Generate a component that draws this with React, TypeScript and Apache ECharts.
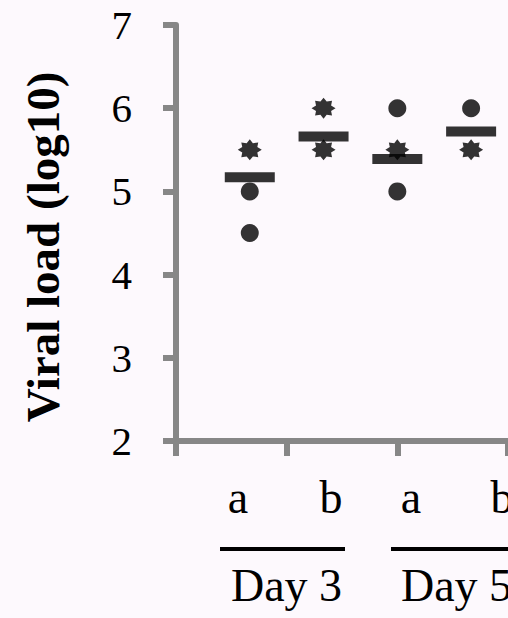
import React, { useEffect, useRef } from "react";
import * as echarts from "echarts";

const groupPositions = [1, 2, 3, 4];
const meanValues = [5.17, 5.66, 5.39, 5.72];
const starPoints = [
  [1, 5.5],
  [2, 6.0],
  [2, 5.5],
  [3, 5.5],
  [4, 5.5],
];
const circlePoints = [
  [1, 5.0],
  [1, 4.5],
  [3, 6.0],
  [3, 5.0],
  [4, 6.0],
];
const subLabels = ["a", "b", "a", "b"];
const dayLabels = ["Day 3", "Day 5"];
const yAxisTitle = "Viral load (log10)";
const yMin = 2;
const yMax = 7;

const SERIF = '"Liberation Serif", "Times New Roman", serif';

function starPath(): string {
  const n = 8;
  const outer = 10;
  const inner = 6.8;
  let d = "";
  for (let i = 0; i < n * 2; i++) {
    const r = i % 2 === 0 ? outer : inner;
    const a = (Math.PI * i) / n - Math.PI / 2;
    const x = (r * Math.cos(a)).toFixed(2);
    const y = (r * Math.sin(a)).toFixed(2);
    d += (i === 0 ? "M" : "L") + x + " " + y + " ";
  }
  return "path://" + d + "Z";
}

export default function App() {
  const ref = useRef<HTMLDivElement>(null);
  useEffect(() => {
    document.body.style.margin = "0";
    if (!ref.current) return;
    const chart = echarts.init(ref.current, null, { renderer: "svg" });
    const subX = [238, 331, 411, 502];
    const dayX = [286.5, 456.5];
    const lineSegs = [
      [220, 345],
      [391, 530],
    ];
    chart.setOption({
      animation: false,
      backgroundColor: "#fdf9fd",
      grid: { left: 176, top: 25, width: 332, height: 416, containLabel: false },
      xAxis: {
        type: "value",
        min: 0,
        max: 4.5,
        interval: 1.5,
        axisLine: { show: true, lineStyle: { color: "#878787", width: 6 } },
        axisTick: { show: true, length: 15, lineStyle: { color: "#878787", width: 6 } },
        axisLabel: { show: false },
        splitLine: { show: false },
      },
      yAxis: {
        type: "value",
        min: yMin,
        max: yMax,
        interval: 1,
        axisLine: { show: true, lineStyle: { color: "#878787", width: 6 } },
        axisTick: { show: true, length: 13, lineStyle: { color: "#878787", width: 6 } },
        axisLabel: {
          show: true,
          color: "#000",
          fontFamily: SERIF,
          fontSize: 41,
          margin: 44,
        },
        splitLine: { show: false },
      },
      series: [
        {
          type: "scatter",
          name: "circles",
          data: circlePoints,
          symbol: "circle",
          symbolSize: 18,
          itemStyle: { color: "#000" },
          z: 2,
        },
        {
          type: "scatter",
          name: "stars",
          data: starPoints,
          symbol: starPath(),
          symbolSize: [24, 21],
          itemStyle: { color: "#000" },
          z: 3,
        },
        {
          type: "scatter",
          name: "mean",
          data: groupPositions.map((x, i) => [x, meanValues[i]]),
          symbol: "rect",
          symbolSize: [50, 10],
          itemStyle: { color: "#000" },
          z: 4,
        },
      ],
      graphic: [
        {
          type: "text",
          x: 42.5,
          y: 247,
          rotation: Math.PI / 2,
          style: {
            text: yAxisTitle,
            font: `bold 47px ${SERIF}`,
            fill: "#000",
            align: "center",
            verticalAlign: "middle",
          },
        },
        ...subLabels.map((t, i) => ({
          type: "text",
          x: subX[i],
          y: 520,
          style: {
            text: t,
            font: `46px ${SERIF}`,
            fill: "#000",
            align: "center",
            verticalAlign: "bottom",
          },
        })),
        ...lineSegs.map((s) => ({
          type: "line",
          shape: { x1: s[0], y1: 549, x2: s[1], y2: 549 },
          style: { stroke: "#000", lineWidth: 4 },
        })),
        ...dayLabels.map((t, i) => ({
          type: "text",
          x: dayX[i],
          y: 608,
          style: {
            text: t,
            font: `46px ${SERIF}`,
            fill: "#000",
            align: "center",
            verticalAlign: "bottom",
          },
        })),
      ],
    });
    return () => chart.dispose();
  }, []);
  return <div ref={ref} style={{ width: 508, height: 618 }} />;
}
